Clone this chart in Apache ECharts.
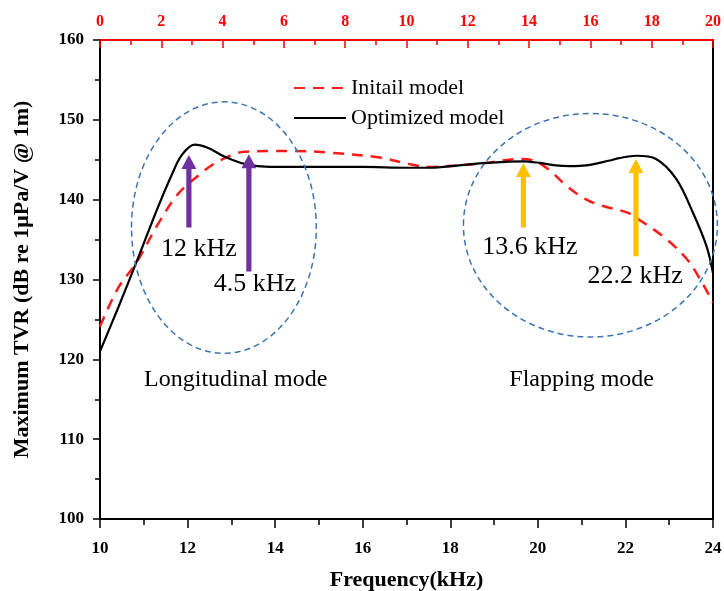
<!DOCTYPE html>
<html>
<head>
<meta charset="utf-8">
<script src="https://cdn.jsdelivr.net/npm/echarts@6/dist/echarts.min.js"></script>
<style>
html,body{margin:0;padding:0;background:#fff;}
#c{width:724px;height:591px;}
</style>
</head>
<body>
<div id="c"></div>
<script>
// ---- data ----
var freqOpt = [10.0, 10.41, 10.87, 11.32, 11.63, 11.87, 12.16, 12.46, 12.84, 13.22, 13.6, 14.0, 15.0, 16.0, 17.0, 17.53, 18.2, 18.83, 19.66, 20.05, 20.4, 20.73, 21.11, 21.64, 21.85, 22.25, 22.7, 23.16, 23.54, 23.85, 24.0];
var valOpt  = [121.0, 126.4, 132.7, 139.0, 143.0, 145.6, 146.9, 146.5, 145.4, 144.6, 144.2, 144.1, 144.1, 144.1, 144.0, 144.0, 144.3, 144.6, 144.8, 144.6, 144.3, 144.2, 144.3, 144.9, 145.2, 145.5, 145.1, 142.6, 138.4, 134.2, 130.8];
var freqInit = [10.0, 10.41, 10.83, 11.32, 11.78, 12.24, 12.7, 13.3, 14.0, 14.45, 15.21, 16.35, 17.11, 17.53, 18.2, 18.83, 19.59, 19.9, 20.24, 20.66, 21.11, 21.49, 22.03, 22.34, 22.95, 23.41, 23.71, 24.0];
var valInit  = [124.1, 128.9, 132.1, 136.9, 140.7, 143.0, 144.8, 146.0, 146.1, 146.1, 145.9, 145.3, 144.4, 144.1, 144.3, 144.6, 145.1, 144.9, 143.8, 141.7, 140.0, 139.2, 138.4, 137.4, 135.0, 132.5, 130.0, 127.1];
var seriesNames = ['Initail model', 'Optimized model'];
var xTitle = 'Frequency(kHz)';
var yTitle = 'Maximum TVR (dB re 1\u03bcPa/V @ 1m)';

// annotations (data coordinates)
var arrowFreq = [12.03, 13.4, 19.67, 22.24];
var arrowTail = [136.5, 131.0, 136.5, 132.9];
var arrowTip  = [145.6, 145.7, 144.6, 145.1];
var arrowKind = ['p', 'p', 'y', 'y'];
var noteText = ['12 kHz', '4.5 kHz', '13.6 kHz', '22.2 kHz'];
var noteFreq = [12.26, 13.54, 19.82, 22.22];
var noteVal  = [133.8, 129.4, 134.0, 130.4];
var modeText = ['Longitudinal mode', 'Flapping mode'];
var modeFreq = [13.1, 21.0];
var modeVal  = [117.5, 117.5];
var ellCx = [12.83, 21.2];
var ellCy = [136.5, 136.8];
var ellRx = [2.11, 2.9];
var ellRy = [15.75, 14.0];

var SERIF = "'Liberation Serif','Times New Roman',serif";
function pairs(xs, ys){ return xs.map(function(x,i){ return [x, ys[i]]; }); }

var chart = echarts.init(document.getElementById('c'), null, {renderer:'canvas'});
var option = {
  animation: false,
  backgroundColor: '#fff',
  grid: {left: 100, right: 11, top: 40, bottom: 72, containLabel: false, outerBoundsMode: 'none'},
  legend: {
    orient: 'vertical', left: 293, top: 77, itemGap: 8, padding: 0,
    itemWidth: 52, itemHeight: 14,
    data: seriesNames,
    itemStyle: {opacity: 0},
    textStyle: {fontFamily: SERIF, fontSize: 22, color: '#000', lineHeight: 22}
  },
  xAxis: [
    {
      type: 'value', position: 'bottom', min: 10, max: 24, interval: 2,
      name: xTitle, nameLocation: 'middle', nameGap: 50,
      nameTextStyle: {fontFamily: SERIF, fontWeight: 'bold', fontSize: 22, color: '#000'},
      axisLine: {show: true, onZero: false, lineStyle: {color: '#000', width: 2}},
      axisTick: {show: true, inside: false, length: 9, lineStyle: {color: '#000', width: 1.5}},
      minorTick: {show: true, splitNumber: 2, length: 6, lineStyle: {color: '#000', width: 1.5}},
      axisLabel: {fontFamily: SERIF, fontWeight: 'bold', fontSize: 17, color: '#000', margin: 21},
      splitLine: {show: false}
    },
    {
      type: 'value', position: 'top', min: 0, max: 20, interval: 2,
      axisLine: {show: true, onZero: false, lineStyle: {color: '#ff0000', width: 2}},
      axisTick: {show: true, inside: true, length: 8, lineStyle: {color: '#ff0000', width: 1.5}},
      minorTick: {show: true, splitNumber: 2, length: 5, lineStyle: {color: '#ff0000', width: 1.5}},
      axisLabel: {fontFamily: SERIF, fontWeight: 'bold', fontSize: 16, color: '#ff0000', margin: 10},
      splitLine: {show: false}
    }
  ],
  yAxis: [
    {
      type: 'value', position: 'left', min: 100, max: 160, interval: 10,
      name: yTitle, nameLocation: 'middle', nameGap: 67, nameRotate: 90,
      nameTextStyle: {fontFamily: SERIF, fontWeight: 'bold', fontSize: 22, color: '#000'},
      axisLine: {show: true, onZero: false, lineStyle: {color: '#000', width: 2}},
      axisTick: {show: true, inside: false, length: 7, lineStyle: {color: '#000', width: 1.5}},
      minorTick: {show: true, splitNumber: 2, length: 5, lineStyle: {color: '#000', width: 1.5}},
      axisLabel: {fontFamily: SERIF, fontWeight: 'bold', fontSize: 17, color: '#000', margin: 16},
      splitLine: {show: false}
    },
    {
      type: 'value', position: 'right', min: 100, max: 160,
      axisLine: {show: true, onZero: false, lineStyle: {color: '#000', width: 2}},
      axisTick: {show: false}, axisLabel: {show: false}, splitLine: {show: false}
    }
  ],
  series: [
    {
      name: seriesNames[0], type: 'line', xAxisIndex: 0, yAxisIndex: 0,
      data: pairs(freqInit, valInit), smooth: 0.35, symbol: 'none', showSymbol: false,
      lineStyle: {color: '#ff1a1a', width: 2.5, type: [11, 8]},
      itemStyle: {color: '#ff1a1a'}, z: 3
    },
    {
      name: seriesNames[1], type: 'line', xAxisIndex: 0, yAxisIndex: 0,
      data: pairs(freqOpt, valOpt), smooth: 0.35, symbol: 'none', showSymbol: false,
      lineStyle: {color: '#000', width: 2.2},
      itemStyle: {color: '#000'}, z: 4
    }
  ]
};
chart.setOption(option);

function px(f, v){ return chart.convertToPixel({xAxisIndex: 0, yAxisIndex: 0}, [f, v]); }

var g = [];
// ellipses
for (var i = 0; i < ellCx.length; i++) {
  var c = px(ellCx[i], ellCy[i]);
  var ex = px(ellCx[i] + ellRx[i], ellCy[i]);
  var ey = px(ellCx[i], ellCy[i] + ellRy[i]);
  g.push({
    type: 'ellipse', z: 50,
    shape: {cx: c[0], cy: c[1], rx: Math.abs(ex[0] - c[0]), ry: Math.abs(c[1] - ey[1])},
    style: {fill: 'none', stroke: '#3c74b2', lineWidth: 1.5, lineDash: [6, 4]}
  });
}
// arrows
for (var j = 0; j < arrowFreq.length; j++) {
  var t = px(arrowFreq[j], arrowTail[j]);
  var h = px(arrowFreq[j], arrowTip[j]);
  var x = t[0], sw = 2.6, hw = 7.5, hl = 14;
  var col = arrowKind[j] === 'p' ? '#7030a0' : '#ffc000';
  g.push({
    type: 'polygon', z: 60,
    shape: {points: [[x - sw, t[1]], [x - sw, h[1] + hl], [x - hw, h[1] + hl], [x, h[1]], [x + hw, h[1] + hl], [x + sw, h[1] + hl], [x + sw, t[1]]]},
    style: {fill: col, stroke: null}
  });
}
// notes
for (var k = 0; k < noteText.length; k++) {
  var p = px(noteFreq[k], noteVal[k]);
  g.push({
    type: 'text', z: 70, x: p[0], y: p[1],
    style: {text: noteText[k], fontFamily: SERIF, fontSize: 26, fill: '#000', align: 'center', verticalAlign: 'middle'}
  });
}
for (var m = 0; m < modeText.length; m++) {
  var q = px(modeFreq[m], modeVal[m]);
  g.push({
    type: 'text', z: 70, x: q[0], y: q[1],
    style: {text: modeText[m], fontFamily: SERIF, fontSize: 24, fill: '#000', align: 'center', verticalAlign: 'middle'}
  });
}
chart.setOption({graphic: g});
</script>
</body>
</html>
